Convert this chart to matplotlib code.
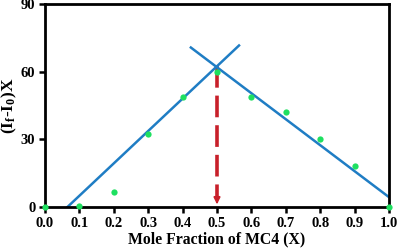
import numpy as np
import matplotlib.pyplot as plt

# Job plot data
mole_frac = [0.0, 0.1, 0.2, 0.3, 0.4, 0.5, 0.6, 0.7, 0.8, 0.9, 1.0]
signal = [0.0, 0.3, 6.8, 32.4, 48.9, 60.0, 48.9, 42.2, 30.2, 18.2, 0.0]

# linear fits (endpoints)
left_x = [0.065, 0.564]
left_y = [0.0, 71.6]
right_x = [0.424, 1.0]
right_y = [70.7, 4.4]

peak_x = 0.5
peak_y = 62.3

xticks = [0.0, 0.1, 0.2, 0.3, 0.4, 0.5, 0.6, 0.7, 0.8, 0.9, 1.0]
yticks = [0, 30, 60, 90]

plt.rcParams['font.family'] = ['Liberation Serif', 'DejaVu Serif']
plt.rcParams['font.weight'] = 'bold'
plt.rcParams['mathtext.fontset'] = 'custom'
plt.rcParams['mathtext.rm'] = 'Liberation Serif:bold'
plt.rcParams['mathtext.it'] = 'Liberation Serif:bold'

fig = plt.figure(figsize=(4, 2.48), dpi=100)
ax = fig.add_axes([0.1125, 0.165, 0.86, 0.819])

ax.plot(left_x, left_y, color='#1f7dc4', lw=1.8, zorder=2)
ax.plot(right_x, right_y, color='#1f7dc4', lw=1.8, zorder=2)
ax.plot(mole_frac, signal, 'o', color='#1ee060', ms=4.5, mec='none', zorder=3, clip_on=False)

ax.plot([peak_x, peak_x], [peak_y, 3], color='#c8202a', lw=2.6, ls=(0, (6, 2.2)), zorder=1)
ax.annotate('', xy=(peak_x, 0), xytext=(peak_x, 4),
            arrowprops=dict(arrowstyle='-|>', color='#c8202a', lw=1.5, mutation_scale=9))

ax.set_xlim(0, 1.0)
ax.set_ylim(0, 90)
ax.set_xticks(xticks)
ax.set_xticklabels(['%.1f' % v for v in xticks])
ax.set_yticks(yticks)
ax.tick_params(direction='out', width=1.8, length=4, labelsize=10.5, pad=3)
for s in ax.spines.values():
    s.set_linewidth(2)

ax.set_xlabel('Mole Fraction of MC4 (X)', fontsize=11.3, fontweight='bold', labelpad=1)
ax.set_ylabel(r'(I$_{\mathrm{f}}$-I$_{\mathrm{0}}$)X', fontsize=12.5, fontweight='bold', labelpad=1)

fig.savefig('out.png', dpi=100)
